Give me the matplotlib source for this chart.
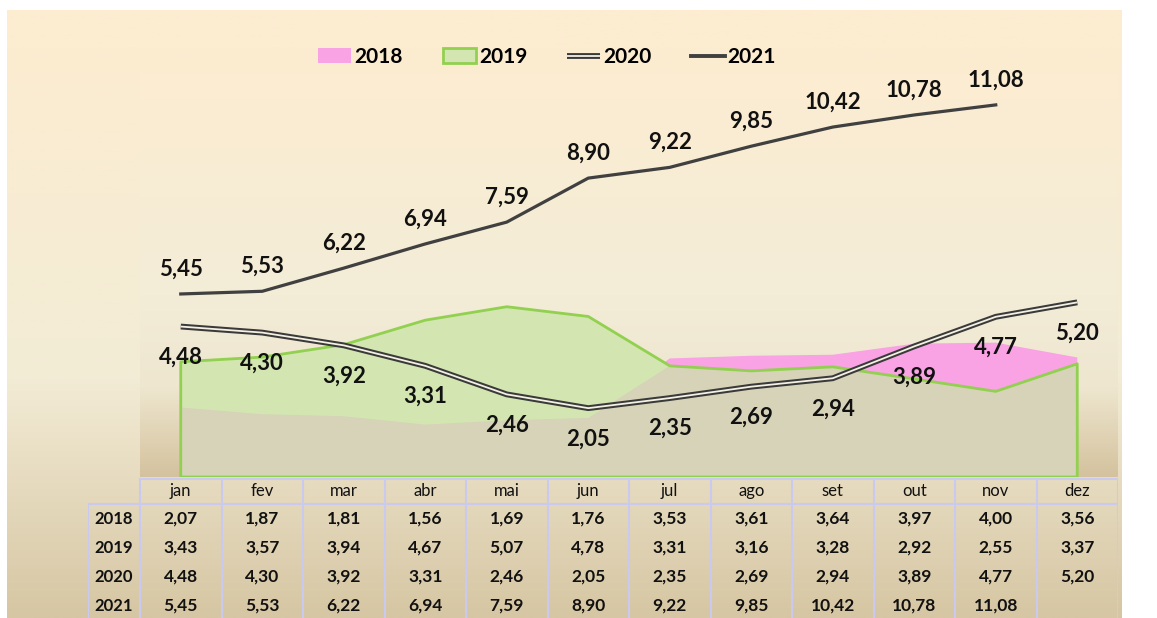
import numpy as np
import matplotlib
matplotlib.use('Agg')
import matplotlib.pyplot as plt
import matplotlib.patheffects as pe
from matplotlib.patches import Patch
from matplotlib.lines import Line2D

plt.rcParams['font.family'] = ['Lato', 'DejaVu Sans']

# dados
meses = ['jan', 'fev', 'mar', 'abr', 'mai', 'jun', 'jul', 'ago', 'set', 'out', 'nov', 'dez']
anos = ['2018', '2019', '2020', '2021']
v2018 = [2.07, 1.87, 1.81, 1.56, 1.69, 1.76, 3.53, 3.61, 3.64, 3.97, 4.00, 3.56]
v2019 = [3.43, 3.57, 3.94, 4.67, 5.07, 4.78, 3.31, 3.16, 3.28, 2.92, 2.55, 3.37]
v2020 = [4.48, 4.30, 3.92, 3.31, 2.46, 2.05, 2.35, 2.69, 2.94, 3.89, 4.77, 5.20]
v2021 = [5.45, 5.53, 6.22, 6.94, 7.59, 8.90, 9.22, 9.85, 10.42, 10.78, 11.08, None]

W, H = 1157, 618
fig = plt.figure(figsize=(W / 100, H / 100), dpi=100)
fig.patch.set_facecolor('white')


def gradiente(stops, n=256):
    pos = [s[0] for s in stops]
    cols = np.array([s[1] for s in stops]) / 255.0
    t = np.linspace(0, 1, n)
    img = np.stack([np.interp(t, pos, cols[:, i]) for i in range(3)], axis=1)
    return img[:, None, :]


# fundo da area do grafico
ax_bg = fig.add_axes([7 / W, 0, (1122 - 7) / W, (H - 10) / H], zorder=-10)
ax_bg.imshow(gradiente([(0, (253, 236, 208)), (0.6, (243, 236, 214)), (1, (214, 198, 163))]),
             aspect='auto', extent=(0, 1, 0, 1))
ax_bg.set_axis_off()

# area de plotagem
px_l, px_r, px_t, px_b = 140, 1118, 74, 477
ax = fig.add_axes([px_l / W, 1 - px_b / H, (px_r - px_l) / W, (px_b - px_t) / H])
ax.set_xlim(-0.5, 11.5)
ax.set_ylim(0, 12)
ax.imshow(gradiente([(0, (252, 237, 210)), (0.55, (243, 236, 215)),
                     (0.78, (238, 230, 207)), (1, (212, 194, 158))]),
          aspect='auto', extent=(-0.5, 11.5, 0, 12), zorder=0)
ax.set_axis_off()

x = np.arange(len(meses))
a18 = np.array(v2018)
a19 = np.array(v2019)
verde = '#92D050'
ax.fill_between(x, 0, a18, facecolor='#F9A2E4', lw=0, zorder=1)
ax.fill_between(x, 0, a19, facecolor='#D3E6B1', lw=0, zorder=2)
ax.fill_between(x, 0, np.minimum(a18, a19), facecolor='#D6D3B8', lw=0, zorder=3)
ax.fill_between(x, 0, a19, facecolor='none', edgecolor=verde, lw=2, zorder=4)

# 2020 linha dupla
dupla = [pe.Stroke(linewidth=4.2, foreground='#3a3a3a', capstyle='butt'), pe.Normal()]
ax.plot(x, v2020, color='#f4f0e4', lw=1.3, solid_capstyle='butt', zorder=6,
        path_effects=dupla)

# 2021 linha simples
x21 = [i for i, v in enumerate(v2021) if v is not None]
y21 = [v for v in v2021 if v is not None]
ax.plot(x21, y21, color='#404040', lw=2.3, zorder=7)

fmt = lambda v: f'{v:.2f}'.replace('.', ',')
for xi, v in zip(x21, y21):
    ax.annotate(fmt(v), (xi, v), xytext=(0, 18), textcoords='offset points',
                ha='center', va='center', fontsize=16, fontweight='bold',
                color='#111111', zorder=9, annotation_clip=False)
for xi, v in zip(x, v2020):
    ax.annotate(fmt(v), (xi, v), xytext=(0, -22), textcoords='offset points',
                ha='center', va='center', fontsize=16, fontweight='bold',
                color='#111111', zorder=9, annotation_clip=False)

# tabela de dados
lbl_w = 52 / ((px_r - px_l) / 12)
ax_t = fig.add_axes([88 / W, -2 / H, (px_r - 88) / W, 142 / H])
ax_t.set_xlim(-0.5 - lbl_w, 11.5)
ax_t.set_ylim(620, 478)
ax_t.set_axis_off()
lav = '#CACAF0'
ax_t.plot([-0.5, 11.5], [479, 479], color=lav, lw=1.5)
ax_t.plot([-0.5 - lbl_w, 11.5], [504, 504], color=lav, lw=1.5)
ax_t.plot([-0.5 - lbl_w, -0.5 - lbl_w], [504, 620], color=lav, lw=1.5)
for b in np.arange(-0.5, 12, 1):
    ax_t.plot([b, b], [479, 620], color=lav, lw=1.5)

for i, m in enumerate(meses):
    ax_t.text(i, 491, m, ha='center', va='center', fontsize=12, color='#111111')

linhas_y = [519, 548, 577, 606]
for ano, vals, yy in zip(anos, [v2018, v2019, v2020, v2021], linhas_y):
    ax_t.text(-0.5 - lbl_w / 2, yy, ano, ha='center', va='center', fontsize=12,
              fontweight='bold', color='#111111')
    for i, v in enumerate(vals):
        if v is None:
            continue
        ax_t.text(i, yy, fmt(v), ha='center', va='center', fontsize=12.5,
                  fontweight='bold', color='#111111')

# legenda
h18 = Patch(facecolor='#F9A2E4', edgecolor='none')
h19 = Patch(facecolor='#D3E6B1', edgecolor=verde, lw=2)
h20 = Line2D([], [], color='#f4f0e4', lw=1.3, solid_capstyle='butt',
             path_effects=dupla)
h21 = Line2D([], [], color='#404040', lw=2.8)
fig.legend([h18, h19, h20, h21], anos, loc='center', ncol=4, frameon=False,
           bbox_to_anchor=(547 / W, 1 - 57 / H),
           prop={'size': 15, 'weight': 'bold'}, handlelength=1.6, handleheight=0.7,
           handletextpad=0.15, columnspacing=1.9)

fig.savefig('out.png', dpi=100, facecolor='white')
